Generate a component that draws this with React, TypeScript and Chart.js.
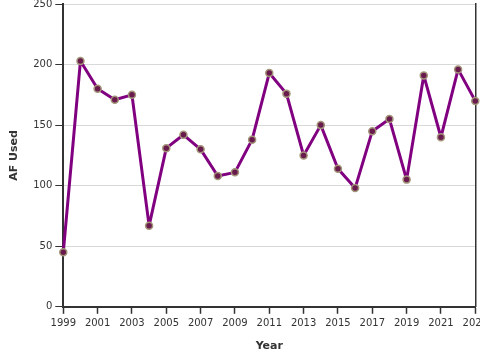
import React, { useEffect, useRef } from "react";
import { Chart, registerables } from "chart.js";

Chart.register(...registerables);

const years = [1999, 2000, 2001, 2002, 2003, 2004, 2005, 2006, 2007, 2008, 2009, 2010, 2011, 2012, 2013, 2014, 2015, 2016, 2017, 2018, 2019, 2020, 2021, 2022, 2023];
const afUsed = [45, 203, 180, 171, 175, 67, 131, 142, 130, 108, 111, 138, 193, 176, 125, 150, 114, 98, 145, 155, 105, 191, 140, 196, 170];
const xTitle = "Year";
const yTitle = "AF Used";

export default function App() {
  const ref = useRef<HTMLCanvasElement | null>(null);
  useEffect(() => {
    document.body.style.margin = "0";
    const ctx = ref.current;
    if (!ctx) return;
    const font = { family: "DejaVu Sans", size: 10 };
    const chart = new Chart(ctx, {
      type: "line",
      data: {
        datasets: [
          {
            label: yTitle,
            data: years.map((y, i) => ({ x: y, y: afUsed[i] })),
            borderColor: "#800080",
            borderWidth: 3,
            borderJoinStyle: "round",
            pointRadius: 3.5,
            pointBackgroundColor: "#6a1b4d",
            pointBorderColor: "#a3957a",
            pointBorderWidth: 1.5,
            tension: 0,
            clip: false,
          },
        ],
      },
      options: {
        animation: false,
        responsive: true,
        maintainAspectRatio: false,
        layout: { padding: { top: 0, left: 4, right: 0, bottom: 3 } },
        plugins: { legend: { display: false }, tooltip: { enabled: false } },
        scales: {
          x: {
            type: "linear",
            min: 1999,
            max: 2023,
            ticks: { stepSize: 2, color: "#333", font, padding: 4, callback: (v: any) => String(v), maxRotation: 0 },
            grid: { display: true, drawOnChartArea: false, tickLength: 7, tickColor: "#333", tickWidth: 1.5 },
            border: { color: "#333", width: 2 },
            title: { display: true, text: xTitle, color: "#333", font: { family: "DejaVu Sans", size: 11, weight: "bold" }, padding: { top: 6 } },
          },
          y: {
            min: 0,
            max: 250,
            ticks: { stepSize: 50, color: "#333", font, padding: 3 },
            grid: { color: "#d9d9d9", lineWidth: 1, tickLength: 8, tickColor: "#333" },
            border: { color: "#333", width: 2 },
            title: { display: true, text: yTitle, color: "#333", font: { family: "DejaVu Sans", size: 11, weight: "bold" }, padding: { bottom: 9 } },
          },
          y2: {
            position: "right",
            min: 0,
            max: 250,
            ticks: { display: false },
            grid: { display: false, drawTicks: false },
            border: { color: "#333", width: 1.5 },
          },
        },
      },
    } as any);
    return () => chart.destroy();
  }, []);
  return (
    <div style={{ width: 480, height: 360, overflow: "hidden", position: "relative" }}>
      <div style={{ width: 492, height: 365, position: "absolute", left: 0, top: -5 }}>
        <canvas ref={ref} />
      </div>
    </div>
  );
}
